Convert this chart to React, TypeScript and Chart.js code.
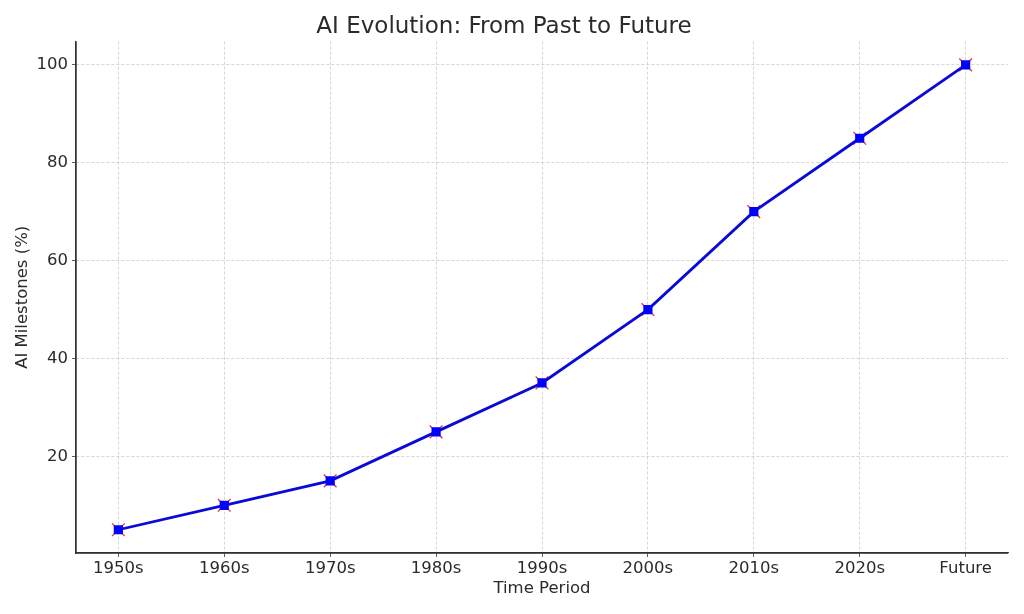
import React, { useEffect, useRef } from "react";
import { Chart, registerables } from "chart.js";

Chart.register(...registerables);

const categories = ["1950s", "1960s", "1970s", "1980s", "1990s", "2000s", "2010s", "2020s", "Future"];
const milestones = [5, 10, 15, 25, 35, 50, 70, 85, 100];
const yTicks = [20, 40, 60, 80, 100];

const FONT = "'DejaVu Sans', sans-serif";
const TEXT = "#2b2b2b";

export default function App() {
  const ref = useRef<HTMLCanvasElement | null>(null);

  useEffect(() => {
    if (!ref.current) return;
    const pts = milestones.map((v, i) => ({ x: i, y: v }));
    const chart = new Chart(ref.current, {
      type: "line",
      data: {
        datasets: [
          {
            label: "AI Milestones",
            data: pts,
            borderColor: "#0a0ad8",
            backgroundColor: "#0000ff",
            borderWidth: 2.8,
            pointStyle: "rect",
            pointRadius: 6.5,
            pointBackgroundColor: "#0000ff",
            pointBorderColor: "#0000ff",
            pointBorderWidth: 0,
            tension: 0,
            order: 0,
          },
          {
            label: "marker",
            data: pts,
            showLine: false,
            pointStyle: "crossRot",
            pointRadius: 9,
            pointBorderColor: "#e0304a",
            pointBorderWidth: 1.3,
            order: 1,
          },
        ],
      },
      options: {
        animation: false,
        responsive: false,
        maintainAspectRatio: false,
        layout: { padding: { left: 0, right: 16, top: 0, bottom: 0 } },
        plugins: {
          legend: { display: false },
          tooltip: { enabled: false },
          title: {
            display: true,
            text: "AI Evolution: From Past to Future",
            color: TEXT,
            font: { family: FONT, size: 23, weight: "normal" },
            padding: { top: 13, bottom: 1 },
          },
        },
        scales: {
          x: {
            type: "linear",
            min: -0.4,
            max: 8.4,
            afterBuildTicks: (axis: any) => {
              axis.ticks = categories.map((_, i) => ({ value: i }));
            },
            afterFit: (axis: any) => {
              axis.height = 61;
            },
            ticks: {
              callback: (v: any) => categories[Number(v)] ?? "",
              color: TEXT,
              font: { family: FONT, size: 16.5 },
              padding: 2,
              maxRotation: 0,
              autoSkip: false,
            },
            grid: {
              color: "rgba(190,190,190,0.8)",
              lineWidth: 0.8,
              tickColor: "#333333",
              tickLength: 4,
            },
            border: { display: true, color: "#333333", width: 1.3, dash: [3, 2] } as any,
            title: {
              display: true,
              text: "Time Period",
              color: TEXT,
              font: { family: FONT, size: 16.5 },
              padding: { top: 0, bottom: 15 },
            },
          },
          y: {
            type: "linear",
            min: 0.25,
            max: 104.75,
            afterBuildTicks: (axis: any) => {
              axis.ticks = yTicks.map((v) => ({ value: v }));
            },
            afterFit: (axis: any) => {
              axis.width = 76;
            },
            ticks: {
              color: TEXT,
              font: { family: FONT, size: 16.5 },
              padding: 4,
            },
            grid: {
              color: "rgba(190,190,190,0.8)",
              lineWidth: 0.8,
              tickColor: "#333333",
              tickLength: 4,
            },
            border: { display: true, color: "#333333", width: 1.3, dash: [3, 2] } as any,
            title: {
              display: true,
              text: "AI Milestones (%)",
              color: TEXT,
              font: { family: FONT, size: 16.5 },
              padding: { top: 13, bottom: 0 },
            },
          },
        },
      },
      plugins: [
        {
          id: "solidSpines",
          afterDraw: (c: any) => {
            const { ctx, chartArea } = c;
            ctx.save();
            ctx.strokeStyle = "#333333";
            ctx.lineWidth = 1.3;
            ctx.setLineDash([]);
            ctx.beginPath();
            ctx.moveTo(chartArea.left, chartArea.top);
            ctx.lineTo(chartArea.left, chartArea.bottom);
            ctx.lineTo(chartArea.right, chartArea.bottom);
            ctx.stroke();
            ctx.restore();
          },
        },
      ],
    } as any);
    return () => chart.destroy();
  }, []);

  return (
    <div style={{ position: "fixed", left: 0, top: 0, width: 1024, height: 614, background: "#fff" }}>
      <canvas ref={ref} width={1024} height={614} style={{ width: 1024, height: 614, display: "block" }} />
    </div>
  );
}
